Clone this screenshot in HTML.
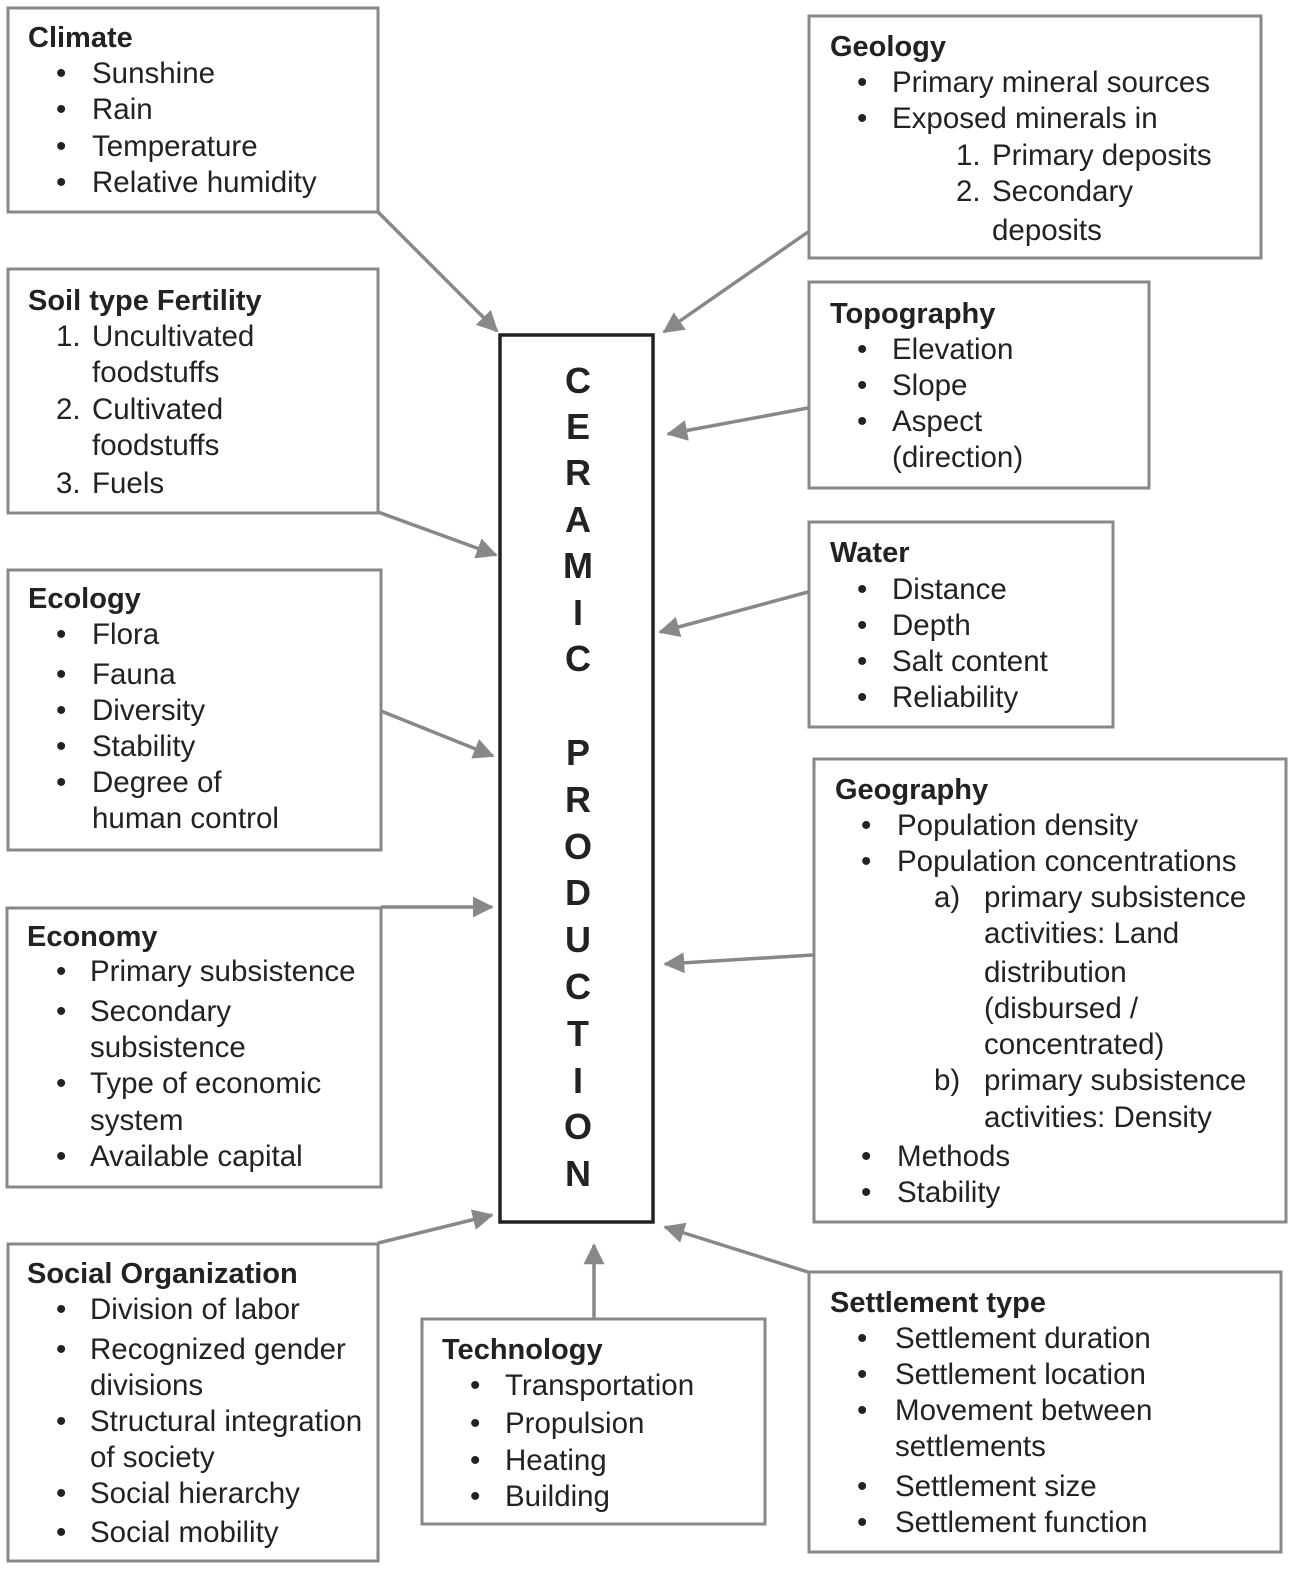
<!DOCTYPE html>
<html><head><meta charset="utf-8"><style>
html,body{margin:0;padding:0;background:#fff}
svg{display:block}
text{font-family:"Liberation Sans",sans-serif;font-size:29.5px;fill:#222}
.t{font-weight:bold;font-size:29px}
.c{font-weight:bold;font-size:36px;text-anchor:middle}
rect.b{fill:#fff;stroke:#888;stroke-width:3}
line{stroke:#888;stroke-width:3.5}
</style></head><body>
<svg width="1308" height="1587" viewBox="0 0 1308 1587" xmlns="http://www.w3.org/2000/svg">
<defs><marker id="a" markerWidth="6" markerHeight="6" refX="5.5" refY="3" orient="auto" markerUnits="strokeWidth"><path d="M0,0 L6,3 L0,6 z" fill="#888"/></marker></defs>
<rect class="b" x="8" y="8" width="370" height="204"/>
<rect class="b" x="809" y="16" width="452" height="242"/>
<rect class="b" x="8" y="269" width="370" height="244"/>
<rect class="b" x="809" y="282" width="340" height="206"/>
<rect class="b" x="8" y="570" width="373" height="280"/>
<rect class="b" x="809" y="522" width="304" height="205"/>
<rect class="b" x="7" y="908" width="374" height="279"/>
<rect class="b" x="814" y="759" width="472" height="463"/>
<rect class="b" x="8" y="1244" width="370" height="317"/>
<rect class="b" x="422" y="1319" width="343" height="205"/>
<rect class="b" x="809" y="1272" width="472" height="280"/>
<rect x="500" y="335" width="153" height="887" fill="#fff" stroke="#222" stroke-width="3.5"/>
<g marker-end="url(#a)">
<line x1="378" y1="212" x2="497" y2="331"/>
<line x1="808" y1="232" x2="664" y2="332"/>
<line x1="378" y1="512" x2="496" y2="555"/>
<line x1="808" y1="408" x2="668" y2="434"/>
<line x1="381" y1="711" x2="493" y2="756"/>
<line x1="808" y1="592" x2="660" y2="632"/>
<line x1="381" y1="907" x2="492" y2="907"/>
<line x1="813" y1="955" x2="665" y2="964"/>
<line x1="378" y1="1243" x2="492" y2="1215"/>
<line x1="594" y1="1318" x2="594" y2="1245"/>
<line x1="808" y1="1272" x2="665" y2="1227"/>
</g>
<g>
<text class="c" x="578" y="393">C</text><text class="c" x="578" y="439">E</text><text class="c" x="578" y="485">R</text><text class="c" x="578" y="532">A</text><text class="c" x="578" y="578">M</text><text class="c" x="578" y="625">I</text><text class="c" x="578" y="671">C</text>
<text class="c" x="578" y="765">P</text><text class="c" x="578" y="812">R</text><text class="c" x="578" y="859">O</text><text class="c" x="578" y="905">D</text><text class="c" x="578" y="952">U</text><text class="c" x="578" y="999">C</text><text class="c" x="578" y="1046">T</text><text class="c" x="578" y="1093">I</text><text class="c" x="578" y="1139">O</text><text class="c" x="578" y="1186">N</text>
</g>
<text class="t" x="28" y="47">Climate</text>
<text x="56" y="83">•</text><text x="92" y="83">Sunshine</text>
<text x="56" y="119">•</text><text x="92" y="119">Rain</text>
<text x="56" y="156">•</text><text x="92" y="156">Temperature</text>
<text x="56" y="192">•</text><text x="92" y="192">Relative humidity</text>
<text class="t" x="830" y="56">Geology</text>
<text x="857" y="92">•</text><text x="892" y="92">Primary mineral sources</text>
<text x="857" y="128">•</text><text x="892" y="128">Exposed minerals in</text>
<text x="956" y="165">1.</text><text x="992" y="165">Primary deposits</text>
<text x="956" y="201">2.</text><text x="992" y="201">Secondary</text>
<text x="992" y="240">deposits</text>
<text class="t" x="28" y="310">Soil type Fertility</text>
<text x="56" y="346">1.</text><text x="92" y="346">Uncultivated</text>
<text x="92" y="382">foodstuffs</text>
<text x="56" y="419">2.</text><text x="92" y="419">Cultivated</text>
<text x="92" y="455">foodstuffs</text>
<text x="56" y="493">3.</text><text x="92" y="493">Fuels</text>
<text class="t" x="830" y="323">Topography</text>
<text x="857" y="359">•</text><text x="892" y="359">Elevation</text>
<text x="857" y="395">•</text><text x="892" y="395">Slope</text>
<text x="857" y="431">•</text><text x="892" y="431">Aspect</text>
<text x="892" y="467">(direction)</text>
<text class="t" x="28" y="608">Ecology</text>
<text x="56" y="644">•</text><text x="92" y="644">Flora</text>
<text x="56" y="684">•</text><text x="92" y="684">Fauna</text>
<text x="56" y="720">•</text><text x="92" y="720">Diversity</text>
<text x="56" y="756">•</text><text x="92" y="756">Stability</text>
<text x="56" y="792">•</text><text x="92" y="792">Degree of</text>
<text x="92" y="828">human control</text>
<text class="t" x="830" y="562">Water</text>
<text x="857" y="599">•</text><text x="892" y="599">Distance</text>
<text x="857" y="635">•</text><text x="892" y="635">Depth</text>
<text x="857" y="671">•</text><text x="892" y="671">Salt content</text>
<text x="857" y="707">•</text><text x="892" y="707">Reliability</text>
<text class="t" x="27" y="946">Economy</text>
<text x="56" y="981">•</text><text x="90" y="981">Primary subsistence</text>
<text x="56" y="1021">•</text><text x="90" y="1021">Secondary</text>
<text x="90" y="1057">subsistence</text>
<text x="56" y="1093">•</text><text x="90" y="1093">Type of economic</text>
<text x="90" y="1130">system</text>
<text x="56" y="1166">•</text><text x="90" y="1166">Available capital</text>
<text class="t" x="835" y="799">Geography</text>
<text x="861" y="835">•</text><text x="897" y="835">Population density</text>
<text x="861" y="871">•</text><text x="897" y="871">Population concentrations</text>
<text x="934" y="907">a)</text><text x="984" y="907">primary subsistence</text>
<text x="984" y="943">activities: Land</text>
<text x="984" y="982">distribution</text>
<text x="984" y="1018">(disbursed /</text>
<text x="984" y="1054">concentrated)</text>
<text x="934" y="1090">b)</text><text x="984" y="1090">primary subsistence</text>
<text x="984" y="1127">activities: Density</text>
<text x="861" y="1166">•</text><text x="897" y="1166">Methods</text>
<text x="861" y="1202">•</text><text x="897" y="1202">Stability</text>
<text class="t" x="27" y="1283">Social Organization</text>
<text x="56" y="1319">•</text><text x="90" y="1319">Division of labor</text>
<text x="56" y="1359">•</text><text x="90" y="1359">Recognized gender</text>
<text x="90" y="1395">divisions</text>
<text x="56" y="1431">•</text><text x="90" y="1431">Structural integration</text>
<text x="90" y="1467">of society</text>
<text x="56" y="1503">•</text><text x="90" y="1503">Social hierarchy</text>
<text x="56" y="1542">•</text><text x="90" y="1542">Social mobility</text>
<text class="t" x="442" y="1359">Technology</text>
<text x="470" y="1395">•</text><text x="505" y="1395">Transportation</text>
<text x="470" y="1433">•</text><text x="505" y="1433">Propulsion</text>
<text x="470" y="1470">•</text><text x="505" y="1470">Heating</text>
<text x="470" y="1506">•</text><text x="505" y="1506">Building</text>
<text class="t" x="830" y="1312">Settlement type</text>
<text x="857" y="1348">•</text><text x="895" y="1348">Settlement duration</text>
<text x="857" y="1384">•</text><text x="895" y="1384">Settlement location</text>
<text x="857" y="1420">•</text><text x="895" y="1420">Movement between</text>
<text x="895" y="1456">settlements</text>
<text x="857" y="1496">•</text><text x="895" y="1496">Settlement size</text>
<text x="857" y="1532">•</text><text x="895" y="1532">Settlement function</text>
</svg>
</body></html>
